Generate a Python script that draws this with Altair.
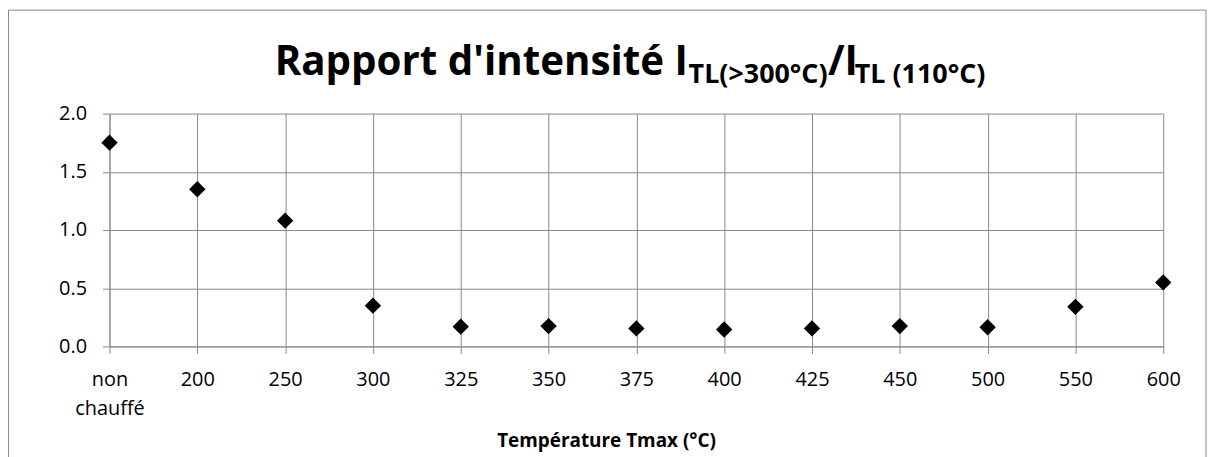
import altair as alt
import pandas as pd

# ---- data ----
categories = ["non chauffé", "200", "250", "300", "325", "350", "375",
              "400", "425", "450", "500", "550", "600"]
ratios = [1.75, 1.35, 1.08, 0.35, 0.17, 0.175, 0.155,
          0.145, 0.155, 0.175, 0.165, 0.34, 0.55]
y_ticks = [0.0, 0.5, 1.0, 1.5, 2.0]

title_main = "Rapport d'intensité I"
title_sub1 = "TL(>300°C)"
title_mid = "/I"
title_sub2 = "TL (110°C)"
x_title = "Température Tmax (°C)"

df = pd.DataFrame({"temp": categories, "ratio": ratios})

W, H = 1059, 234
PAD = {"left": 102, "top": 105, "right": 45, "bottom": 110}
GRID = "#888888"
FONT = "Open Sans"

x_enc = alt.X(
    "temp:N",
    sort=categories,
    scale=alt.Scale(type="point", padding=0),
    axis=alt.Axis(
        title=x_title,
        labelAngle=0,
        labelExpr="datum.label == 'non chauffé' ? ['non', 'chauffé'] : datum.label",
        labelLineHeight=29,
        labelFontSize=20,
        labelColor="#000000",
        labelPadding=16,
        tickSize=7,
        tickColor=GRID,
        domainColor=GRID,
        grid=True,
        gridColor=GRID,
        gridOpacity=1,
        titleFontSize=19,
        titleFontWeight="bold",
        titleColor="#000000",
        titleX=499,
        titleY=101,
        titleAlign="center",
        titleBaseline="alphabetic",
    ),
)
y_enc = alt.Y(
    "ratio:Q",
    scale=alt.Scale(domain=[0, 2], nice=False, zero=True),
    axis=alt.Axis(
        title=None,
        values=y_ticks,
        format=".1f",
        labelFontSize=20,
        labelColor="#000000",
        labelPadding=16,
        tickSize=7,
        tickColor=GRID,
        domainColor=GRID,
        grid=True,
        gridColor=GRID,
        gridOpacity=1,
    ),
)

points = alt.Chart(df).mark_point(
    shape="diamond", filled=True, size=270, color="#000000", opacity=1
).encode(x=x_enc, y=y_enc)

one = alt.Data(values=[{}])

frame = alt.Chart(one).mark_rect(
    fill=None, stroke=GRID, strokeWidth=1, clip=False
).encode(
    x=alt.value(-101.5), x2=alt.value(1102),
    y=alt.value(-104), y2=alt.value(600),
)

def txt(text, xpos, ypos, size, weight="bold"):
    return alt.Chart(one).mark_text(
        text=text, align="left", baseline="alphabetic",
        font=FONT, fontSize=size, fontWeight=weight, color="#000000"
    ).encode(x=alt.value(xpos), y=alt.value(ypos))

t1 = txt(title_main, 166, -39, 40.5)
t2 = txt(title_sub1, 582, -31, 27)
t3 = txt(title_mid, 722, -39, 40.5)
t4 = txt(title_sub2, 749, -31, 27)

chart = alt.layer(frame, points, t1, t2, t3, t4).properties(
    width=W, height=H,
    autosize=alt.AutoSizeParams(type="none"),
    padding=PAD,
).configure(
    font=FONT,
    background="white",
).configure_view(stroke=None)

chart.save("out.html", embed_options={"renderer": "svg", "actions": False})
